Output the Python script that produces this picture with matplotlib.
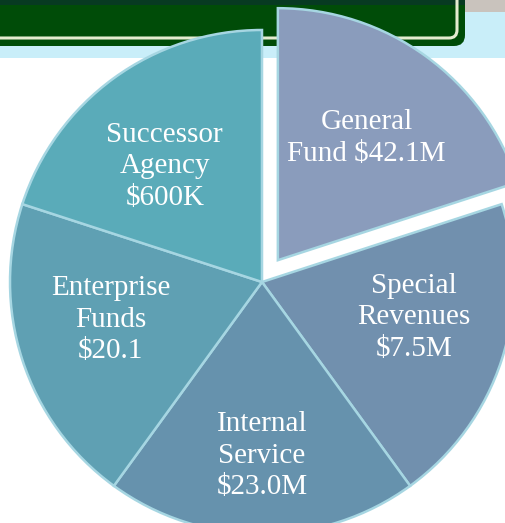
import numpy as np
import matplotlib.pyplot as plt
from matplotlib.patches import Rectangle, FancyBboxPatch
from matplotlib.transforms import Affine2D

# ---- data ----
categories = ["General\nFund $42.1M", "Special\nRevenues\n$7.5M",
              "Internal\nService\n$23.0M", "Enterprise\nFunds\n$20.1",
              "Successor\nAgency\n$600K"]
shares = [20, 20, 20, 20, 20]
colors = ["#8a9cbc", "#7190ae", "#6692ad", "#5fa0b3", "#5aabb9"]
explode = [0.107, 0, 0, 0, 0]
label_dist = [0.60, 0.62, 0.69, 0.62, 0.60]
label_turn = [0, 5, 0, -4, 4]   # degrees of label offset from wedge middle

W, H = 506, 523
fig = plt.figure(figsize=(W / 100, H / 100), dpi=100)
fig.patch.set_facecolor("white")
ax = fig.add_axes([0, 0, 1, 1])
ax.set_facecolor("none")
R = 252.0
cx, cy = 262.0, 282.0

# pixel transform (x from left, y from bottom)
pix = Affine2D().scale(1.0 / W, 1.0 / H) + fig.transFigure

def top(y):
    return H - y

# ---- slide header decoration ----
ax.add_patch(Rectangle((0, top(58)), W, 58, transform=pix, color="#c9eef9", zorder=0, lw=0))
ax.add_patch(Rectangle((465, top(12)), W - 465, 12, transform=pix, color="#c9c3bd", zorder=0, lw=0))
ax.add_patch(FancyBboxPatch((-40, top(46)), 505, 80, boxstyle="round,pad=0,rounding_size=11",
                            transform=pix, facecolor="#004c08", edgecolor="none", zorder=0.1))
ax.add_patch(Rectangle((0, top(5)), 465, 5, transform=pix, color="#073a22", zorder=0.2, lw=0))
ax.add_patch(FancyBboxPatch((-40, top(38)), 497, 80, boxstyle="round,pad=0,rounding_size=8",
                            transform=pix, facecolor="none", edgecolor="#e4ecd0", lw=2.2, zorder=0.3))

# ---- pie ----
wedges, texts = ax.pie(
    shares, explode=explode, colors=colors, startangle=90, counterclock=False,
    radius=1.0, labels=categories, labeldistance=0.62,
    wedgeprops=dict(edgecolor="#a6d6e2", linewidth=1.8),
    textprops=dict(color="white", fontsize=21, family="Liberation Serif"),
)
for w, t, d, turn in zip(wedges, texts, label_dist, label_turn):
    ang = np.deg2rad((w.theta1 + w.theta2) / 2 + turn)
    x0, y0 = w.center
    t.set_position((x0 + d * np.cos(ang), y0 + d * np.sin(ang)))
    t.set_ha("center")
    t.set_va("center")
    t.set_multialignment("center")
    t.set_linespacing(1.28)

ax.set_xlim(-cx / R, (W - cx) / R)
ax.set_ylim(-(H - cy) / R, cy / R)
ax.set_aspect("equal")
ax.axis("off")

fig.savefig("out.png", dpi=100)
